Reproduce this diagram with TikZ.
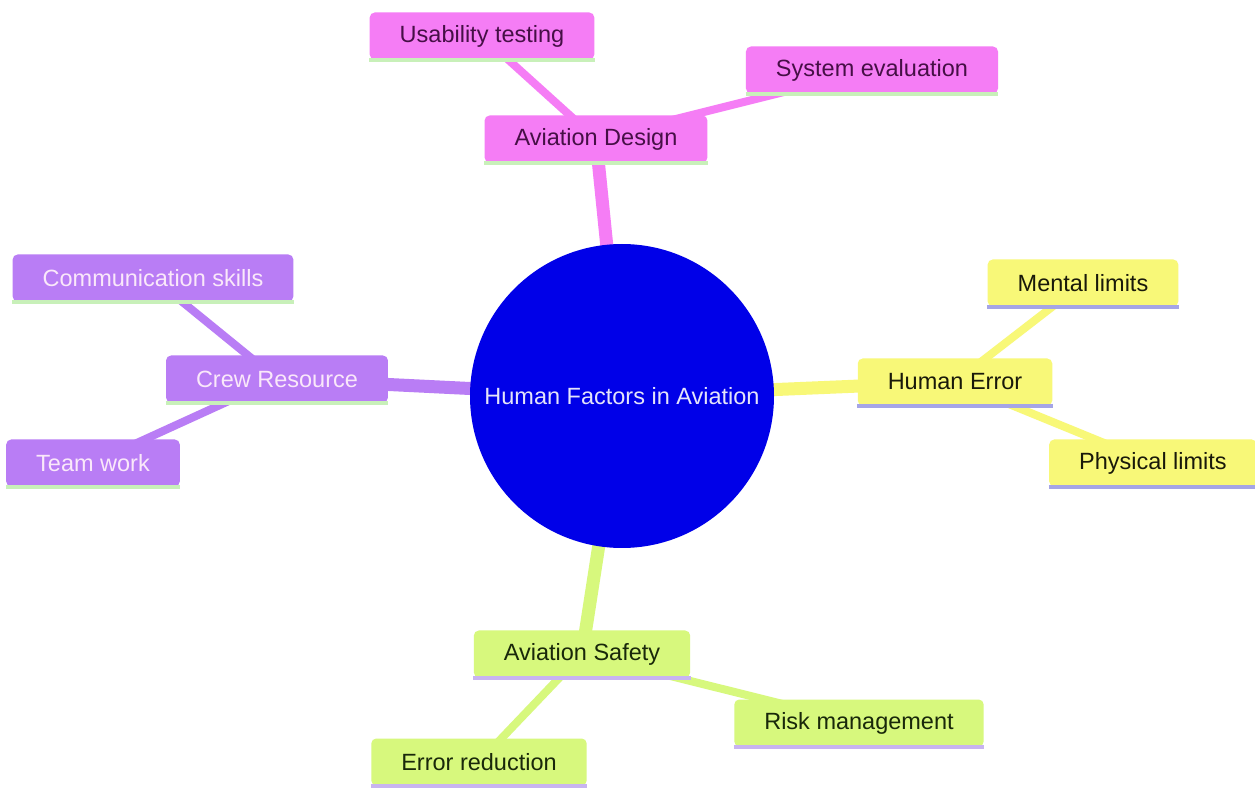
\documentclass[tikz,border=0pt]{standalone}
\usepackage{fontspec}
\setmainfont{Liberation Sans}
\usetikzlibrary{backgrounds}

\definecolor{rootblue}{RGB}{0,0,232}
\definecolor{designpink}{RGB}{245,125,245}
\definecolor{crewpurple}{RGB}{185,125,245}
\definecolor{erroryellow}{RGB}{248,248,120}
\definecolor{safetylime}{RGB}{215,248,125}
\definecolor{greenline}{RGB}{200,240,185}
\definecolor{blueline}{RGB}{165,165,230}
\definecolor{lilacline}{RGB}{200,180,240}
\definecolor{pinktext}{RGB}{70,15,70}
\definecolor{purpletext}{RGB}{250,232,250}
\definecolor{yellowtext}{RGB}{25,25,10}
\definecolor{limetext}{RGB}{25,40,10}
\definecolor{roottext}{RGB}{228,228,250}

\begin{document}
\begin{tikzpicture}[x=0.5pt,y=-0.5pt,
    idea/.style={rounded corners=2.5pt, inner xsep=15pt, inner ysep=0pt,
        minimum height=23.5pt, font=\fontsize{11.75}{14}\selectfont},
    design/.style={idea, fill=designpink, text=pinktext},
    crew/.style={idea, fill=crewpurple, text=purpletext},
    error/.style={idea, fill=erroryellow, text=yellowtext},
    safety/.style={idea, fill=safetylime, text=limetext},
    trunk/.style={line width=6.5pt},
    twig/.style={line width=4pt},
    underline/.style={line width=2pt}]

            \useasboundingbox (0,0) rectangle (1255,791);

            %root
            \node[circle, fill=rootblue, text=roottext, minimum size=152pt,
                font=\fontsize{11.75}{14}\selectfont] (root) at (622,396) {Human Factors in Aviation};

            %design
            \node[design] (design) at (596,139) {Aviation Design};

            \node[design] (usab) at (482,36) {Usability testing};

            \node[design] (syseval) at (872,70) {System evaluation};

            %human error
            \node[error] (error) at (955,382) {Human Error};

            \node[error] (mental) at (1083,283) {Mental limits};

            \node[error] (physical) at (1153,463) {Physical limits};

            %crew
            \node[crew] (crew) at (277,379) {Crew Resource};

            \node[crew] (comm) at (153,278) {Communication skills};

            \node[crew] (team) at (93,463) {Team work};

            %safety
            \node[safety] (safety) at (582,654) {Aviation Safety};

            \node[safety] (risk) at (859,723) {Risk management};

            \node[safety] (reduction) at (479,762) {Error reduction};

            %underlines
            \draw[underline, greenline] (design.south west) -- (design.south east);

            \draw[underline, greenline] (usab.south west) -- (usab.south east);

            \draw[underline, greenline] (syseval.south west) -- (syseval.south east);

            \draw[underline, blueline] (error.south west) -- (error.south east);

            \draw[underline, blueline] (mental.south west) -- (mental.south east);

            \draw[underline, blueline] (physical.south west) -- (physical.south east);

            \draw[underline, greenline] (crew.south west) -- (crew.south east);

            \draw[underline, greenline] (comm.south west) -- (comm.south east);

            \draw[underline, greenline] (team.south west) -- (team.south east);

            \draw[underline, lilacline] (safety.south west) -- (safety.south east);

            \draw[underline, lilacline] (risk.south west) -- (risk.south east);

            \draw[underline, lilacline] (reduction.south west) -- (reduction.south east);

            %edges
            \begin{scope}[on background layer]
            \fill[white] (0,0) rectangle (1255,791);

            \draw[trunk, designpink] (root.center) -- (design.center);

            \draw[twig, designpink] (design.center) -- (usab.center);

            \draw[twig, designpink] (design.center) -- (syseval.center);

            \draw[trunk, erroryellow] (root.center) -- (error.center);

            \draw[twig, erroryellow] (error.center) -- (mental.center);

            \draw[twig, erroryellow] (error.center) -- (physical.center);

            \draw[trunk, crewpurple] (root.center) -- (crew.center);

            \draw[twig, crewpurple] (crew.center) -- (comm.center);

            \draw[twig, crewpurple] (crew.center) -- (team.center);

            \draw[trunk, safetylime] (root.center) -- (safety.center);

            \draw[twig, safetylime] (safety.center) -- (risk.center);

            \draw[twig, safetylime] (safety.center) -- (reduction.center);
            \end{scope}
        \end{tikzpicture}
\end{document}
